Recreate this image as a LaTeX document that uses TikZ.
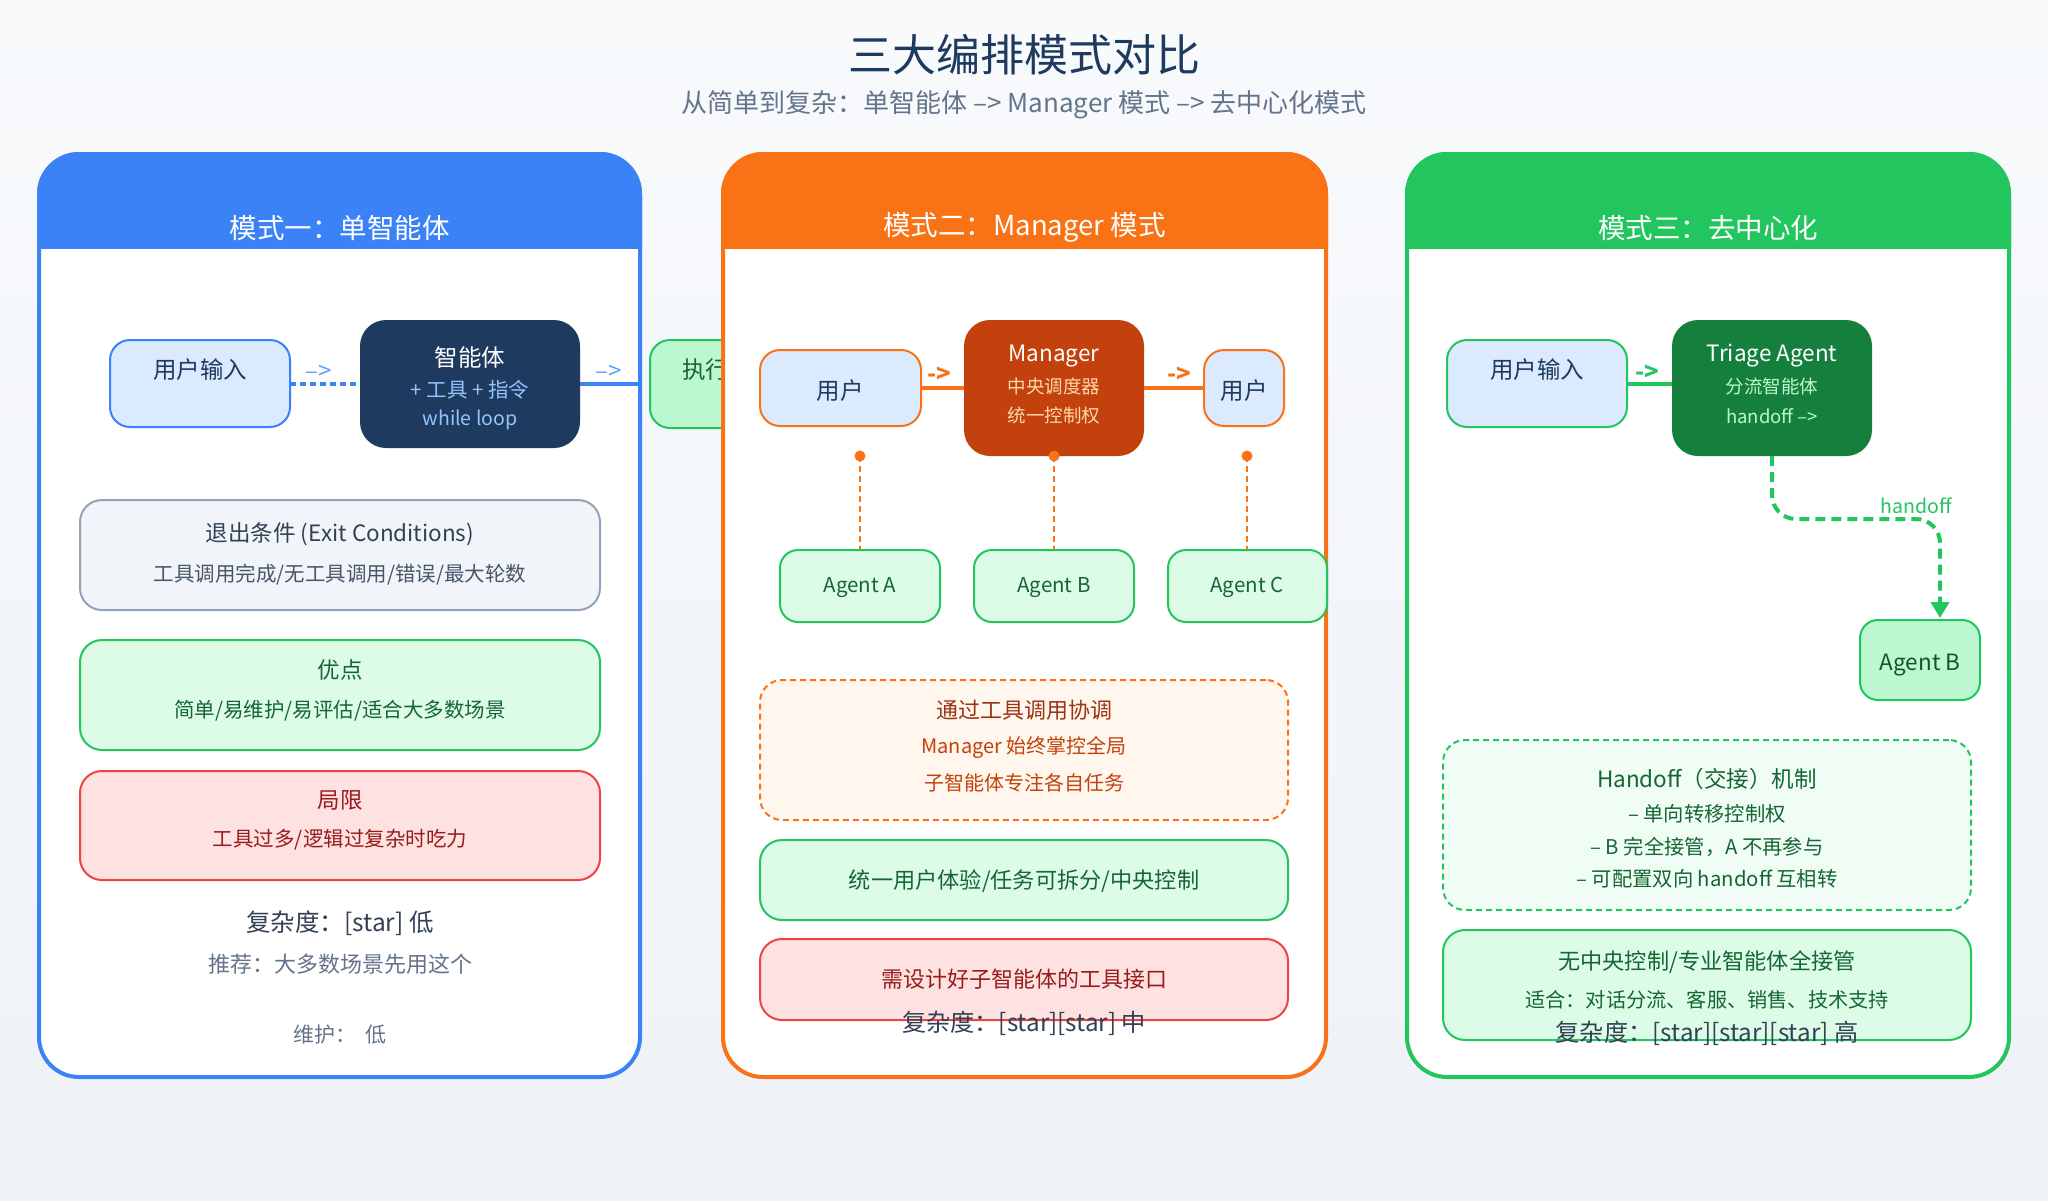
\documentclass[tikz,border=0pt]{standalone}
\usepackage{fontspec}
\setmainfont{Noto Sans CJK SC}
\usetikzlibrary{arrows.meta}
\definecolor{bgA}{HTML}{F8FAFC}
\definecolor{bgB}{HTML}{EEF2F7}
\definecolor{navy}{HTML}{1E3A5F}
\definecolor{slate}{HTML}{64748B}
\definecolor{slateD}{HTML}{334155}
\definecolor{slateM}{HTML}{475569}
\definecolor{blueM}{HTML}{3B82F6}
\definecolor{blueL}{HTML}{DBEAFE}
\definecolor{blueT}{HTML}{93C5FD}
\definecolor{blueA}{HTML}{60A5FA}
\definecolor{orangeM}{HTML}{F97316}
\definecolor{orangeD}{HTML}{C2410C}
\definecolor{orangeDD}{HTML}{9A3412}
\definecolor{orangeL}{HTML}{FFF7ED}
\definecolor{orangeT}{HTML}{FED7AA}
\definecolor{greenM}{HTML}{22C55E}
\definecolor{greenD}{HTML}{15803D}
\definecolor{greenDD}{HTML}{166534}
\definecolor{greenX}{HTML}{14532D}
\definecolor{greenL}{HTML}{DCFCE7}
\definecolor{greenLL}{HTML}{F0FDF4}
\definecolor{greenS}{HTML}{BBF7D0}
\definecolor{redM}{HTML}{EF4444}
\definecolor{redL}{HTML}{FEE2E2}
\definecolor{redD}{HTML}{991B1B}
\definecolor{grayB}{HTML}{94A3B8}
\definecolor{grayL}{HTML}{F1F5F9}
\newcommand\mkbox[6]{\node[#1, minimum width={(#4)-(#2)}, minimum height={(#5)-(#3)}] (#6) at ({((#2)+(#4))/2},{((#3)+(#5))/2}) {};}
\newcommand\fsz[1]{\fontsize{#1}{#1}\selectfont}
\newcommand\mkpanel[5]{%
  \mkbox{draw=#2, line width=4pt, fill=white, rounded corners=40pt, inner sep=0pt}{#3}{154}{#4}{1077}{#1}
  \begin{scope}
    \clip ({#3-5},148) rectangle ({#4+5},248);
    \fill[#2, rounded corners=42pt] ({#3-2},152) rectangle ({#4+2},1079);
  \end{scope}
  \node[txt, white, font=\fsz{27.5}] (#1title) at ({(#3+#4)/2},225) {#5};
}
\tikzset{
  x=1pt, y=-1pt,
  txt/.style={inner sep=0pt, outer sep=0pt, anchor=center, yshift=-2.6pt},
  box/.style={inner sep=0pt, outer sep=0pt, line width=2pt, rounded corners=20pt},
  dbox/.style={box, dash pattern=on 6pt off 4pt},
  thinconn/.style={line width=4pt},
}
\begin{document}
\begin{tikzpicture}
\useasboundingbox (0,0) rectangle (2048,1200);
\shade[top color=bgA, bottom color=bgB] (0,0) rectangle (2048,1200);

\node[txt, navy, font=\fsz{44}] (title) at (1024,52) {三大编排模式对比};
\node[txt, slate, font=\fsz{26}] (subtitle) at (1024,102) {从简单到复杂：单智能体 –> Manager 模式 –> 去中心化模式};

% ---------------- Panel 1
\mkpanel{pA}{blueM}{39}{640}{模式一：单智能体}
\mkbox{box, fill=blueL, draw=blueM}{110}{340}{290}{427}{uiA}
\node[txt, navy, font=\fsz{23.5}] (uiAt) at (200,367) {用户输入};
\mkbox{box, fill=navy, rounded corners=26pt}{360}{320}{580}{448}{agA}
\node[txt, white, font=\fsz{23.5}] (agAt1) at (470,355) {智能体};
\node[txt, blueT, font=\fsz{20.5}] (agAt2) at (470,387) {+ 工具 + 指令};
\node[txt, blueT, font=\fsz{19.5}] (agAt3) at (470,417) {while loop};
\coordinate (pAr) at (640,384);
\draw[blueM, thinconn, dash pattern=on 6pt off 4pt] (uiA.east) -- (uiA.east -| agA.west);
\node[txt, blueA, font=\fsz{24}] (lA1) at (319,370) {–>};
\draw[blueM, thinconn] (agA.east) -- (pAr);
\node[txt, blueA, font=\fsz{24}] (lA2) at (609,370) {–>};
\mkbox{box, fill=greenS, draw=greenM}{650}{340}{830}{428}{exA}
\node[txt, anchor=west, greenDD, font=\fsz{23.5}] (exAt) at (682,367) {执行};

\mkbox{box, fill=grayL, draw=grayB, rounded corners=22pt}{80}{500}{600}{610}{exitA}
\node[txt, slateD, font=\fsz{22.5}] (exitAt1) at (340,532) {退出条件 (Exit Conditions)};
\node[txt, slateM, font=\fsz{20.5}] (exitAt2) at (340,572) {工具调用完成/无工具调用/错误/最大轮数};
\mkbox{box, fill=greenL, draw=greenM, rounded corners=22pt}{80}{640}{600}{750}{proA}
\node[txt, greenDD, font=\fsz{22.5}] (proAt1) at (340,667) {优点};
\node[txt, greenDD, font=\fsz{20.5}] (proAt2) at (340,708) {简单/易维护/易评估/适合大多数场景};
\mkbox{box, fill=redL, draw=redM, rounded corners=22pt}{80}{771}{600}{880}{conA}
\node[txt, redD, font=\fsz{22.5}] (conAt1) at (340,798) {局限};
\node[txt, redD, font=\fsz{20.5}] (conAt2) at (340,837) {工具过多/逻辑过复杂时吃力};
\node[txt, slateD, font=\fsz{24.5}] (cxA) at (340,921) {复杂度：[star] 低};
\node[txt, slate, font=\fsz{22}] (recA) at (340,962) {推荐：大多数场景先用这个};
\node[txt, slate, font=\fsz{21}] (mtA) at (340,1032) {维护：\hspace{0.45em}低};

% ---------------- Panel 2
\mkpanel{pB}{orangeM}{723}{1326}{模式二：Manager 模式}
\mkbox{box, fill=blueL, draw=orangeM}{760}{350}{921}{426}{uB1}
\node[txt, navy, font=\fsz{23.5}] (uB1t) at (840,388) {用户};
\mkbox{box, fill=orangeD, rounded corners=26pt}{964}{320}{1144}{456}{mgB}
\node[txt, white, font=\fsz{22.5}] (mgBt1) at (1054,353) {Manager};
\node[txt, orangeT, font=\fsz{18.5}] (mgBt2) at (1054,384) {中央调度器};
\node[txt, orangeT, font=\fsz{18.5}] (mgBt3) at (1054,413) {统一控制权};
\mkbox{box, fill=blueL, draw=orangeM}{1204}{350}{1284}{426}{uB2}
\node[txt, navy, font=\fsz{23.5}] (uB2t) at (1244,388) {用户};
\draw[orangeM, thinconn] (uB1.east) -- (mgB.west);
\node[txt, orangeM, font=\bfseries\fsz{24}] (lB1) at (939,372) {->};
\draw[orangeM, thinconn] (mgB.east) -- (uB2.west);
\node[txt, orangeM, font=\bfseries\fsz{24}] (lB2) at (1179,372) {->};

\mkbox{box, fill=greenL, draw=greenM, rounded corners=18pt}{780}{550}{940}{622}{gA}
\node[txt, greenDD, font=\fsz{20.5}] (gAt) at (860,585) {Agent A};
\mkbox{box, fill=greenL, draw=greenM, rounded corners=18pt}{974}{550}{1134}{622}{gB}
\node[txt, greenDD, font=\fsz{20.5}] (gBt) at (1054,585) {Agent B};
\mkbox{box, fill=greenL, draw=greenM, rounded corners=18pt}{1168}{550}{1327}{622}{gC}
\node[txt, greenDD, font=\fsz{20.5}] (gCt) at (1247,585) {Agent C};
\coordinate (dA) at (860,456);
\coordinate (dB) at (1054,456);
\coordinate (dC) at (1247,456);
\draw[orangeM, line width=2.5pt, dash pattern=on 6pt off 4pt] (dA) -- (dA |- gA.north);
\draw[orangeM, line width=2.5pt, dash pattern=on 6pt off 4pt] (dB) -- (dB |- gB.north);
\draw[orangeM, line width=2.5pt, dash pattern=on 6pt off 4pt] (dC) -- (dC |- gC.north);
\fill[orangeM] (dA) circle (5.5);
\fill[orangeM] (dB) circle (5.5);
\fill[orangeM] (dC) circle (5.5);

\mkbox{dbox, fill=orangeL, draw=orangeM, rounded corners=22pt}{760}{680}{1288}{820}{coB}
\node[txt, orangeDD, font=\fsz{22}] (coBt1) at (1024,708) {通过工具调用协调};
\node[txt, orangeD, font=\fsz{20}] (coBt2) at (1024,745) {Manager 始终掌控全局};
\node[txt, orangeD, font=\fsz{20}] (coBt3) at (1024,780) {子智能体专注各自任务};
\mkbox{box, fill=greenL, draw=greenM, rounded corners=22pt}{760}{840}{1288}{920}{proB}
\node[txt, greenDD, font=\fsz{22.2}] (proBt) at (1024,878) {统一用户体验/任务可拆分/中央控制};
\mkbox{box, fill=redL, draw=redM, rounded corners=22pt}{760}{939}{1288}{1020}{conB}
\node[txt, redD, font=\fsz{22}] (conBt) at (1024,977) {需设计好子智能体的工具接口};
\node[txt, slateD, font=\fsz{24.2}] (cxB) at (1024,1021) {复杂度：[star][star] 中};

% ---------------- Panel 3
\mkpanel{pC}{greenM}{1407}{2009}{模式三：去中心化}
\mkbox{box, fill=blueL, draw=greenM}{1447}{340}{1627}{427}{uiC}
\node[txt, navy, font=\fsz{23.5}] (uiCt) at (1537,367) {用户输入};
\mkbox{box, fill=greenD, rounded corners=26pt}{1672}{320}{1872}{456}{trC}
\node[txt, white, font=\fsz{22.5}] (trCt1) at (1772,353) {Triage Agent};
\node[txt, greenS, font=\fsz{18.5}] (trCt2) at (1772,384) {分流智能体};
\node[txt, greenS, font=\fsz{18.5}] (trCt3) at (1772,414) {handoff –>};
\draw[greenM, thinconn] (uiC.east) -- (uiC.east -| trC.west);
\node[txt, greenM, font=\bfseries\fsz{24}] (lC1) at (1647,370) {->};
\mkbox{box, fill=greenS, draw=greenM, rounded corners=18pt}{1860}{620}{1980}{700}{gCB}
\node[txt, greenX, font=\fsz{22.5}] (gCBt) at (1920,662) {Agent B};
\coordinate (hEnd) at (1940,618);
\draw[greenM, line width=4pt, dash pattern=on 10pt off 6pt, rounded corners=24pt,
  -{Triangle[length=16pt, width=18pt]}] (trC.south) -- (1772,519) -- (1940,519) -- (hEnd);
\node[txt, greenM, font=\fsz{19.5}] (hoL) at (1916,503) {handoff};

\mkbox{dbox, fill=greenLL, draw=greenM, rounded corners=22pt}{1443}{740}{1971}{910}{hoC}
\node[txt, greenDD, font=\fsz{22.5}] (hoCt1) at (1707,776) {Handoff（交接）机制};
\node[txt, greenDD, font=\fsz{20.3}] (hoCt2) at (1707,811) {– 单向转移控制权};
\node[txt, greenDD, font=\fsz{20.3}] (hoCt3) at (1707,844) {– B 完全接管，A 不再参与};
\node[txt, greenDD, font=\fsz{20.3}] (hoCt4) at (1707,876) {– 可配置双向 handoff 互相转};
\mkbox{box, fill=greenL, draw=greenM, rounded corners=22pt}{1443}{930}{1971}{1040}{proC}
\node[txt, greenDD, font=\fsz{22.2}] (proCt1) at (1707,959) {无中央控制/专业智能体全接管};
\node[txt, greenDD, font=\fsz{20.2}] (proCt2) at (1707,997) {适合：对话分流、客服、销售、技术支持};
\node[txt, slateD, font=\fsz{24.2}] (cxC) at (1707,1031) {复杂度：[star][star][star] 高};
\end{tikzpicture}
\end{document}
